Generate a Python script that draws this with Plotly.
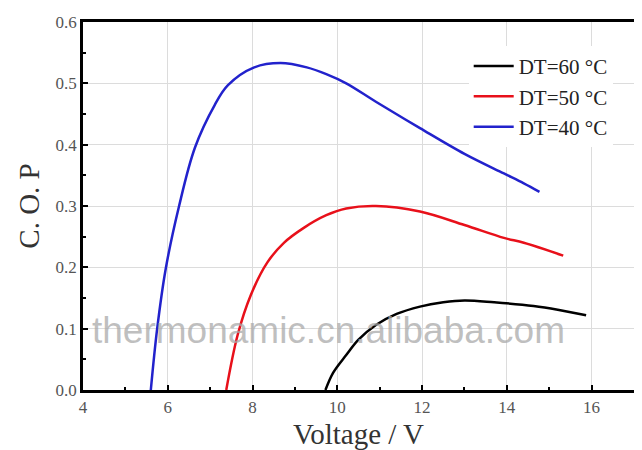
import plotly.graph_objects as go

# ---- data ----
voltage_dt60 = [9.72, 9.9, 10.21, 10.5, 10.91, 11.4, 11.95, 12.5, 13.0, 13.7, 14.63, 15.2, 15.87]
cop_dt60 = [0.0, 0.028, 0.057, 0.082, 0.106, 0.124, 0.136, 0.143, 0.146, 0.143, 0.137, 0.131, 0.122]

voltage_dt50 = [7.38, 7.65, 7.96, 8.35, 8.74, 9.20, 9.74, 10.21, 10.91, 11.95, 13.0, 13.93, 14.4, 15.33]
cop_dt50 = [0.0, 0.09, 0.155, 0.208, 0.240, 0.264, 0.285, 0.296, 0.300, 0.291, 0.269, 0.248, 0.240, 0.219]

voltage_dt40 = [5.60, 5.75, 5.95, 6.26, 6.64, 7.11, 7.42, 8.04, 8.66, 9.28, 9.74, 10.21, 10.91, 11.95, 13.0, 13.93, 14.4, 14.77]
cop_dt40 = [0.0, 0.10, 0.197, 0.298, 0.395, 0.465, 0.497, 0.526, 0.533, 0.526, 0.515, 0.500, 0.470, 0.427, 0.385, 0.353, 0.337, 0.323]

series_names = ["DT=60 °C", "DT=50 °C", "DT=40 °C"]
series_colors = ["#000000", "#e8101a", "#2222cc"]

x_ticks = [4, 6, 8, 10, 12, 14, 16]
y_ticks = [0.0, 0.1, 0.2, 0.3, 0.4, 0.5, 0.6]
y_tick_labels = ["0.0", "0.1", "0.2", "0.3", "0.4", "0.5", "0.6"]

watermark = "thermonamic.cn.alibaba.com"

SERIF = "Liberation Serif, Times New Roman, serif"

fig = go.Figure()
for xs, ys, name, col in zip(
    [voltage_dt60, voltage_dt50, voltage_dt40],
    [cop_dt60, cop_dt50, cop_dt40],
    series_names, series_colors,
):
    fig.add_trace(go.Scatter(
        x=xs, y=ys, name=name, mode="lines",
        line=dict(color=col, width=2.5, shape="spline", smoothing=1.0),
    ))

axis_common = dict(
    showline=True, linecolor="black", linewidth=2.5, mirror=True,
    ticks="inside", ticklen=5, tickwidth=2, tickcolor="black",
    showgrid=True, gridcolor="#dcdcdc", gridwidth=1,
    zeroline=False,
    ticklabeloverflow="allow",
    tickfont=dict(family=SERIF, size=17, color="#555555"),
    minor=dict(ticks="inside", ticklen=3, tickwidth=2, tickcolor="black", showgrid=False),
)

fig.update_xaxes(
    range=[4, 17], tickvals=x_ticks, ticktext=[str(v) for v in x_ticks],
    minor_dtick=1,
    title=dict(text="Voltage / V", font=dict(family=SERIF, size=29, color="#333333"), standoff=8),
    **axis_common,
)
fig.update_yaxes(
    range=[0, 0.6], tickvals=y_ticks, ticktext=y_tick_labels,
    minor_dtick=0.05,
    title=dict(text="C. O. P", font=dict(family=SERIF, size=29, color="#333333"), standoff=8),
    **axis_common,
)

fig.add_annotation(
    text=watermark, xref="paper", yref="y", x=0.012, y=0.097,
    xanchor="left", yanchor="middle", showarrow=False,
    font=dict(family="Liberation Sans, Arial, sans-serif", size=37, color="rgba(170,170,170,0.75)"),
)

# the page body adds an 8px offset, so the figure is sized to fit inside it
fig.update_layout(
    width=634, height=442,
    margin=dict(l=75, r=5, t=8, b=60),
    paper_bgcolor="white", plot_bgcolor="white",
    showlegend=True,
    legend=dict(
        x=0.70, y=0.935, xanchor="left", yanchor="top",
        bgcolor="white", borderwidth=0,
        font=dict(family=SERIF, size=21, color="#222222"),
        itemwidth=40,
    ),
)

fig.write_html("out.html")
